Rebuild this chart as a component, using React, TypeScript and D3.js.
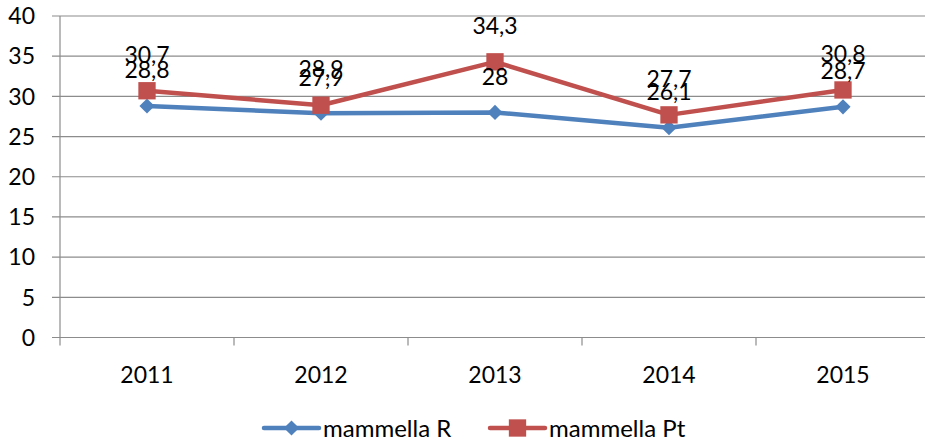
import { useRef, useEffect } from 'react'
import * as d3 from 'd3'

const years = ['2011', '2012', '2013', '2014', '2015']
const mammellaR = [28.8, 27.9, 28, 26.1, 28.7]
const mammellaPt = [30.7, 28.9, 34.3, 27.7, 30.8]
const yTicks = [0, 5, 10, 15, 20, 25, 30, 35, 40]

const fmt = (v: number) => String(v).replace('.', ',')

const App = () => {
    const svgRef = useRef<SVGSVGElement>(null)

    useEffect(() => {
        const w = 925
        const h = 443
        const left = 60, top = 16, bottom = 337.5, right = 930
        const font = 'Lato, "Open Sans", sans-serif'
        const fs = '23px'
        const svg = d3.select(svgRef.current)
            .attr('width', w)
            .attr('height', h)
        svg.selectAll('*').remove()

        const x = d3.scaleBand().domain(years).range([left, right])
        const y = d3.scaleLinear().domain([0, 40]).range([bottom, top])

        // grid lines + y labels
        const g = svg.append('g')
        g.selectAll('.grid')
            .data(yTicks)
            .join('line')
                .attr('x1', left - 8)
                .attr('x2', right)
                .attr('y1', d => y(d))
                .attr('y2', d => y(d))
                .attr('stroke', '#8c8c8c')
                .attr('stroke-width', 1.2)
        g.selectAll('.ylab')
            .data(yTicks)
            .join('text')
                .attr('x', 35)
                .attr('y', d => y(d))
                .attr('dy', '0.36em')
                .attr('text-anchor', 'end')
                .style('font-family', font)
                .style('font-size', fs)
                .text(d => d)

        // y axis line
        g.append('line')
            .attr('x1', left).attr('x2', left)
            .attr('y1', top).attr('y2', bottom)
            .attr('stroke', '#8c8c8c').attr('stroke-width', 1.2)

        // x ticks
        const tickXs = years.map(d => x(d)!).concat([right])
        g.selectAll('.xtick')
            .data(tickXs)
            .join('line')
                .attr('x1', d => d).attr('x2', d => d)
                .attr('y1', bottom).attr('y2', bottom + 8)
                .attr('stroke', '#8c8c8c').attr('stroke-width', 1.2)
        g.selectAll('.xlab')
            .data(years)
            .join('text')
                .attr('x', d => x(d)! + x.bandwidth() / 2)
                .attr('y', 375)
                .attr('dy', '0.36em')
                .attr('text-anchor', 'middle')
                .style('font-family', font)
                .style('font-size', fs)
                .text(d => d)

        const cx = (i: number) => x(years[i])! + x.bandwidth() / 2
        const line = d3.line<number>()
            .x((d, i) => cx(i))
            .y(d => y(d))

        const series = [
            { name: 'mammella R', values: mammellaR, color: '#4F81BD', marker: 'diamond' },
            { name: 'mammella Pt', values: mammellaPt, color: '#C0504D', marker: 'square' },
        ]

        series.forEach(s => {
            svg.append('path')
                .attr('d', line(s.values))
                .attr('fill', 'none')
                .attr('stroke', s.color)
                .attr('stroke-width', 4.5)
                .attr('stroke-linejoin', 'round')
            const sym = s.marker === 'diamond'
                ? d3.symbol().type(d3.symbolSquare).size(115)
                : d3.symbol().type(d3.symbolSquare).size(300)
            svg.selectAll(null)
                .data(s.values)
                .join('path')
                    .attr('d', sym())
                    .attr('transform', (d, i) => `translate(${cx(i)},${y(d)})` + (s.marker === 'diamond' ? ' rotate(45)' : ''))
                    .attr('fill', s.color)
        })

        // data labels
        series.forEach(s => {
            svg.selectAll(null)
                .data(s.values)
                .join('text')
                    .attr('x', (d, i) => cx(i))
                    .attr('y', d => y(d) - 36)
                    .attr('dy', '0.36em')
                    .attr('text-anchor', 'middle')
                    .style('font-family', font)
                    .style('font-size', fs)
                    .text(d => fmt(d))
        })

        // legend
        const legend = [
            { name: 'mammella R', color: '#4F81BD', marker: 'diamond', x0: 264 },
            { name: 'mammella Pt', color: '#C0504D', marker: 'square', x0: 490 },
        ]
        legend.forEach(l => {
            const ly = 428
            svg.append('line')
                .attr('x1', l.x0).attr('x2', l.x0 + 55)
                .attr('y1', ly).attr('y2', ly)
                .attr('stroke', l.color).attr('stroke-width', 4.5)
                .attr('stroke-linecap', 'round')
            const sym = l.marker === 'diamond'
                ? d3.symbol().type(d3.symbolSquare).size(115)
                : d3.symbol().type(d3.symbolSquare).size(300)
            svg.append('path')
                .attr('d', sym())
                .attr('transform', `translate(${l.x0 + 27.5},${ly})` + (l.marker === 'diamond' ? ' rotate(45)' : ''))
                .attr('fill', l.color)
            svg.append('text')
                .attr('x', l.x0 + 59)
                .attr('y', ly)
                .attr('dy', '0.36em')
                .style('font-family', font)
                .style('font-size', '24px')
                .text(l.name)
        })
    }, [])

    return (
        <svg ref={svgRef} style={{ position: 'absolute', left: 0, top: 0 }}></svg>
    )
}

export default App
